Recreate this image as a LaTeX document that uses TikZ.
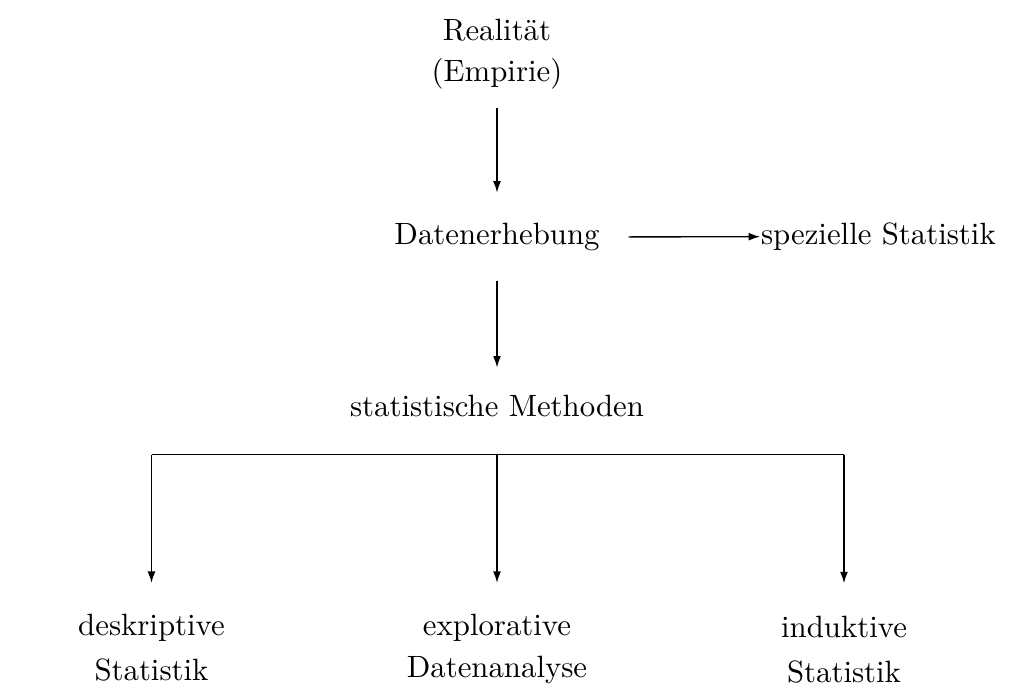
\documentclass[tikz,border=0pt]{standalone}
\usetikzlibrary{arrows.meta}
\begin{document}
\begin{tikzpicture}[x=0.33113pt,y=-0.33113pt,
  every node/.style={font=\fontsize{10.2pt}{12.2pt}\selectfont},
  lbl/.style={inner sep=0pt,outer sep=0pt,align=center},
  arr/.style={-{Latex[length=3.8pt,width=2.6pt]},line width=0.45pt},
  ln/.style={line width=0.45pt}]
\useasboundingbox (0,0) rectangle (1035,693);
\node[lbl,anchor=north] (real) at (497,19) {Realit\"at\\[1.4pt](Empirie)};
\node[lbl,anchor=base] (daten) at (497,244.5) {Datenerhebung};
\node[lbl,anchor=base west] (spez) at (761,244.5) {spezielle Statistik};
\node[lbl,anchor=base] (stat) at (497,416.7) {statistische Methoden};
\node[lbl,anchor=north] (desk) at (151.5,614) {deskriptive\\[2.7pt]Statistik};
\node[lbl,anchor=north] (expl) at (497,614) {explorative\\[1.8pt]Datenanalyse};
\node[lbl,anchor=north] (ind) at (844,616.5) {induktive\\[2.5pt]Statistik};
\coordinate (fork) at (497,454.5);
\draw[arr,shorten <=6.1pt,shorten >=10.1pt] (real.south) -- (daten.north);
\draw[arr,shorten <=9.6pt,shorten >=0.3pt] (daten.east) -- (spez.west);
\draw[arr,shorten <=10.1pt,shorten >=9.2pt] (daten.south) -- (stat.north);
\draw[ln] (fork -| desk) -- (fork -| ind);
\draw[arr,shorten >=10.3pt] (fork -| desk) -- (desk.north);
\draw[arr,shorten >=10.3pt] (fork) -- (expl.north);
\draw[arr,shorten >=11pt] (fork -| ind) -- (ind.north);
\end{tikzpicture}
\end{document}
